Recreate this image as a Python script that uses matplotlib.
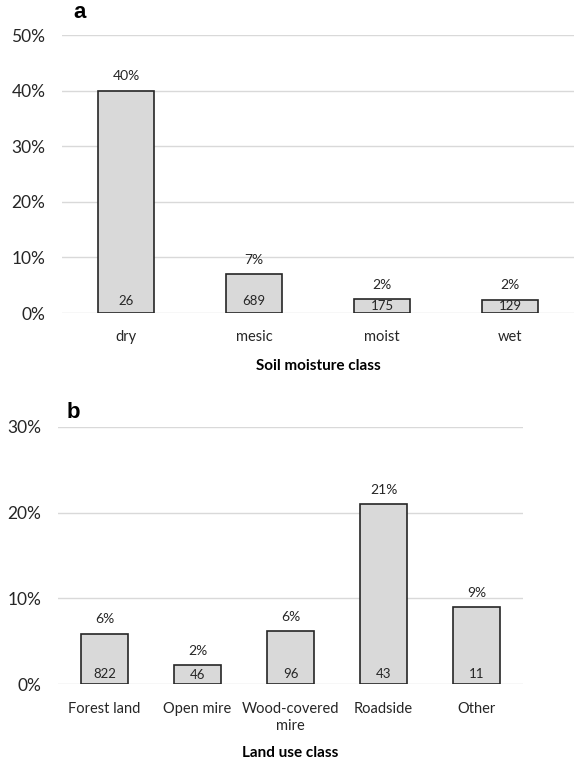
import matplotlib
matplotlib.use("Agg")
import matplotlib.pyplot as plt
from matplotlib.ticker import FuncFormatter, MultipleLocator

plt.rcParams['font.family'] = ['Lato', 'DejaVu Sans']

# Panel a data
soil_classes = ["dry", "mesic", "moist", "wet"]
soil_pct = [40.0, 7.0, 2.5, 2.4]
soil_pct_labels = ["40%", "7%", "2%", "2%"]
soil_counts = ["26", "689", "175", "129"]

# Panel b data
land_classes = ["Forest land", "Open mire", "Wood-covered\nmire", "Roadside", "Other"]
land_pct = [5.9, 2.2, 6.2, 21.0, 9.0]
land_pct_labels = ["6%", "2%", "6%", "21%", "9%"]
land_counts = ["822", "46", "96", "43", "11"]

W, H = 574, 762
fig = plt.figure(figsize=(W / 100, H / 100), dpi=100)

def fx(px):
    return px / W

def fy(py):
    return 1 - py / H

BAR_FC = "#d9d9d9"
BAR_EC = "#262626"
GRID = "#d9d9d9"
TXT = "#262626"


def panel(left, right, top, bottom, cats, vals, pct_labels, counts, ymax,
          title, title_y, letter, letter_xy, xpad, barw, count_px):
    ax = fig.add_axes([fx(left), fy(bottom), fx(right - left), fy(top) - fy(bottom)])
    x = list(range(len(cats)))
    bars = ax.bar(x, vals, width=barw, color=BAR_FC, edgecolor=BAR_EC,
                  linewidth=1.2, zorder=3)
    ax.set_xlim(-0.5, len(cats) - 0.5)
    ax.set_ylim(0, ymax)
    ax.yaxis.set_major_locator(MultipleLocator(10))
    ax.yaxis.set_major_formatter(FuncFormatter(lambda v, p: f"{v:.0f}%"))
    ax.set_axisbelow(True)
    ax.yaxis.grid(True, color=GRID, linewidth=1.0, zorder=0)
    ax.xaxis.grid(False)
    for s in ax.spines.values():
        s.set_visible(False)
    ax.tick_params(axis="both", length=0)
    ax.tick_params(axis="y", pad=12, labelsize=12.5, labelcolor=TXT)
    ax.set_xticks(x)
    ax.set_xticklabels(cats, fontsize=10.5, color=TXT, linespacing=1.2)
    ax.tick_params(axis="x", pad=xpad)
    ax.bar_label(bars, labels=pct_labels, padding=6, fontsize=10, color=TXT)
    # count labels: near the base, or centred when the bar is too short
    data_per_px = ymax / (bottom - top)
    base_off = count_px * data_per_px
    for xi, v, c in zip(x, vals, counts):
        ax.text(xi, min(base_off, v / 2), c, ha="center", va="center",
                fontsize=9.5, color=TXT, zorder=5)
    fig.text(fx((left + right) / 2), fy(title_y), title, fontsize=11,
             fontweight="bold", color="black", ha="center", va="center")
    fig.text(fx(letter_xy[0]), fy(letter_xy[1]), letter,
             fontsize=16, fontweight="bold", family="Liberation Sans",
             ha="left", va="center")
    return ax

ax1 = panel(62, 574, 35, 313, soil_classes, soil_pct, soil_pct_labels,
            soil_counts, 50, "Soil moisture class", 366, "a", (73, 12), 12,
            0.44, 12)

ax2 = panel(58, 523, 426.7, 684.3, land_classes, land_pct, land_pct_labels,
            land_counts, 30, "Land use class", 753, "b", (67, 412), 13,
            0.51, 10.5)

fig.savefig("out.png", dpi=100)
